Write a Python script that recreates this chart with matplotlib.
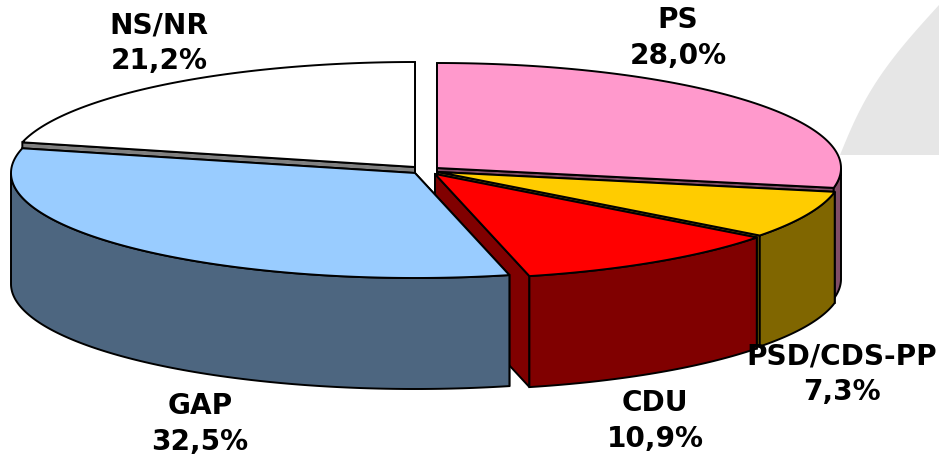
import numpy as np
import matplotlib
matplotlib.use("Agg")
import matplotlib.pyplot as plt

# clockwise from 12 o'clock
labels = ["PS", "PSD/CDS-PP", "CDU", "GAP", "NS/NR"]
values = [28.0, 7.3, 10.9, 32.5, 21.2]
value_text = ["28,0%", "7,3%", "10,9%", "32,5%", "21,2%"]

top_colors = ["#FF99CC", "#FFCC00", "#FF0000", "#99CCFF", "#FFFFFF"]
wall_colors = ["#804D66", "#806600", "#800000", "#4D6680", "#808080"]

# exploded centres of each slice, in pixels
centres = [(437, 168), (438, 172), (435, 174), (415, 173), (415, 167)]
label_pos = [(678, 38), (842, 374), (655, 421), (200, 424), (159, 43)]

RX = 404
RY = 105
DEPTH = 111
EDGE = 1.4

plt.rcParams["font.family"] = ["DejaVu Sans"]

fig = plt.figure(figsize=(9.39, 4.58), dpi=100)
ax = fig.add_axes([0, 0, 1, 1])
ax.set_xlim(0, 939)
ax.set_ylim(458, 0)
ax.axis("off")

# faint backdrop shape, top right
t = np.linspace(0, 1, 30)
bx = 840 + 99 * t - 12 * np.sin(np.pi * t)
by = 155 - 150 * t
ax.fill(np.r_[bx, 939], np.r_[by, 155], color="#E6E6E6", lw=0, zorder=0)


def rim(cx, cy, a0, a1):
    a = np.radians(np.linspace(a0, a1, 200))
    return cx + RX * np.sin(a), cy + RY * np.cos(a) * -1


edges = np.r_[0, np.cumsum(values)] / sum(values) * 360

# painter order: back slices first, GAP last, NS/NR is behind everything
order = [4, 0, 1, 2, 3]
for z, i in enumerate(order, start=2):
    cx, cy = centres[i]
    a0, a1 = edges[i], edges[i + 1]
    x, y = rim(cx, cy, a0, a1)

    # radial walls
    for xe, ye in [(x[0], y[0]), (x[-1], y[-1])]:
        ax.fill([cx, xe, xe, cx], [cy, ye, ye + DEPTH, cy + DEPTH],
                facecolor=wall_colors[i], edgecolor="black", lw=EDGE, zorder=z)

    # outer wall only where the rim faces the viewer
    lo, hi = max(a0, 90), min(a1, 270)
    if lo < hi:
        xo, yo = rim(cx, cy, lo, hi)
        ax.fill(np.r_[xo, xo[::-1]], np.r_[yo, yo[::-1] + DEPTH],
                facecolor=wall_colors[i], edgecolor="black", lw=EDGE, zorder=z)

    ax.fill(np.r_[cx, x], np.r_[cy, y], facecolor=top_colors[i],
            edgecolor="black", lw=EDGE, zorder=z)

for name, val, (tx, ty) in zip(labels, value_text, label_pos):
    ax.text(tx, ty, f"{name}\n{val}", ha="center", va="center", fontsize=20.2,
            fontweight="bold", color="black", linespacing=1.32, zorder=20)

fig.savefig("out.png", dpi=100)
